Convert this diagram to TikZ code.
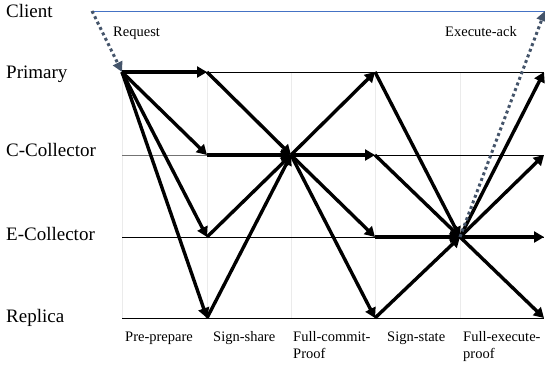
\documentclass[tikz,border=0pt]{standalone}
\usepackage{fontspec}
\setmainfont{Liberation Serif}
\usetikzlibrary{arrows.meta}
\definecolor{clientblue}{HTML}{4472C4}
\definecolor{slate}{HTML}{44546A}
\begin{document}
\begin{tikzpicture}[x=1pt,y=-1pt,
  rowlabel/.style={anchor=base west,inner sep=0pt,font=\fontsize{19}{21}\selectfont},
  phaselabel/.style={anchor=base west,inner sep=0pt,align=left,font=\fontsize{14.5}{17}\selectfont},
  msglabel/.style={anchor=base west,inner sep=0pt,font=\fontsize{14.5}{17}\selectfont},
  msg/.style={line width=3.4pt,-{Triangle[length=10pt,width=11pt]}},
  dotmsg/.style={slate,line width=3pt,dash pattern=on 3pt off 3pt,-{Triangle[length=10pt,width=10pt]}},
  timeline/.style={line width=0.9pt,black},
  grid/.style={line width=0.6pt,black!8}]
\useasboundingbox (0,0) rectangle (545,367);
% columns
\foreach \i/\x in {0/122,1/207,2/291,3/375,4/460,5/544}{
  \coordinate (p\i) at (\x,72);
  \coordinate (c\i) at (\x,155);
  \coordinate (e\i) at (\x,237);
  \coordinate (r\i) at (\x,318);
}
\coordinate (cl0) at (92,11);
\coordinate (cl5) at (545,11);
% grid
\foreach \i in {0,...,4}{\draw[grid] (p\i) -- (r\i);}
% timelines
\draw[clientblue,line width=0.8pt] (cl0) -- (cl5);
\draw[timeline] (p0) -- (p5);
\draw[timeline,black!55] (c0) -- (c1);
\draw[timeline] (c1) -- (c5);
\draw[timeline] (e0) -- (e5);
\draw[timeline] (r0) -- (r5);
% row labels
\node[rowlabel] (lclient) at (6,17.5) {Client};
\node[rowlabel] (lprimary) at (6,78) {Primary};
\node[rowlabel] (lcc) at (6,156) {C-Collector};
\node[rowlabel] (lec) at (6,240) {E-Collector};
\node[rowlabel] (lrep) at (6,322) {Replica};
% phase labels
\node[phaselabel] (ph1) at (125,341) {Pre-prepare};
\node[phaselabel] (ph2) at (213,341) {Sign-share};
\node[phaselabel] (ph3) at (293,358) {Full-commit-\\Proof};
\node[phaselabel] (ph4) at (387,341) {Sign-state};
\node[phaselabel] (ph5) at (463,358) {Full-execute-\\proof};
\node[msglabel] (lreq) at (113,36) {Request};
\node[msglabel] (lack) at (445,36) {Execute-ack};
% pre-prepare
\draw[msg] (p0) -- (p1);
\draw[msg] (p0) -- (c1);
\draw[msg] (p0) -- (e1);
\draw[msg] (p0) -- (r1);
% sign-share
\draw[msg] (p1) -- (c2);
\draw[msg] (c1) -- (c2);
\draw[msg] (e1) -- (c2);
\draw[msg] (r1) -- (c2);
% full-commit-proof
\draw[msg] (c2) -- (p3);
\draw[msg] (c2) -- (c3);
\draw[msg] (c2) -- (e3);
\draw[msg] (c2) -- (r3);
% sign-state
\draw[msg] (p3) -- (e4);
\draw[msg] (c3) -- (e4);
\draw[msg] (e3) -- (e4);
\draw[msg] (r3) -- (e4);
% full-execute-proof
\draw[msg] (e4) -- (p5);
\draw[msg] (e4) -- (c5);
\draw[msg] (e4) -- (e5);
\draw[msg] (e4) -- (r5);
% client messages
\draw[dotmsg] (cl0) -- (p0);
\draw[dotmsg] (e4) -- (cl5);
\end{tikzpicture}
\end{document}
